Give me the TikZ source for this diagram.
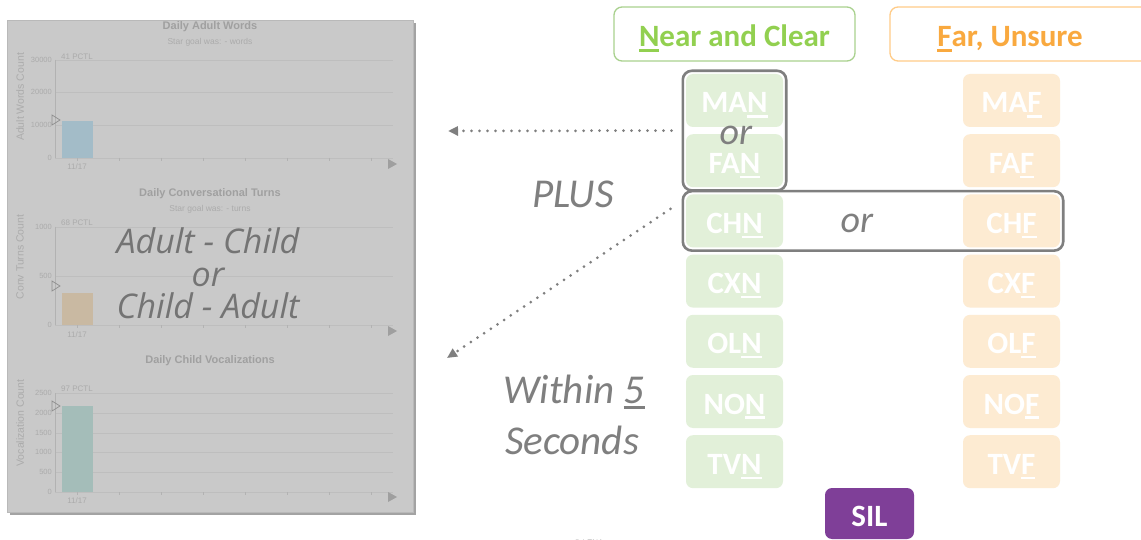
\documentclass[tikz,border=0pt]{standalone}
\usepackage{fontspec}
\setmainfont{Carlito}
\newfontfamily\chartfont{Liberation Sans}
\newfontfamily\ovfont{Open Sans}
\usetikzlibrary{arrows.meta,fit}
\definecolor{panelc}{HTML}{C9C9C9}
\definecolor{panelb}{HTML}{B9B9B9}
\definecolor{shadowc}{HTML}{A3A3A3}
\definecolor{ctitlec}{HTML}{A0A0A0}
\definecolor{clabc}{HTML}{ABABAB}
\definecolor{gridc}{HTML}{BEBEBE}
\definecolor{axisc}{HTML}{B2B2B2}
\definecolor{barA}{HTML}{A3BCC8}
\definecolor{barB}{HTML}{C9B9A2}
\definecolor{barC}{HTML}{A4BDB9}
\definecolor{grayt}{HTML}{7F7F7F}
\definecolor{ovc}{HTML}{747474}
\definecolor{ntext}{HTML}{92D050}
\definecolor{nborder}{HTML}{A9D18E}
\definecolor{nfill}{HTML}{E2F0D9}
\definecolor{ftext}{HTML}{F9A93F}
\definecolor{fborder}{HTML}{FFCC88}
\definecolor{ffill}{HTML}{FDEBD2}
\definecolor{silc}{HTML}{7F3F98}
\newcommand{\ulx}[1]{\leavevmode\setbox0=\hbox{#1}\rlap{\rule[-0.15em]{\wd0}{0.075em}}\box0}
\begin{document}
\begin{tikzpicture}[x=1pt,y=-1pt,
  ctitle/.style={font=\chartfont\bfseries\fontsize{11}{13}\selectfont, text=ctitlec, inner sep=0pt},
  csub/.style={font=\chartfont\fontsize{8.5}{10}\selectfont, text=clabc, inner sep=0pt},
  ylab/.style={font=\chartfont\fontsize{7.5}{9}\selectfont, text=clabc, anchor=east, inner sep=0pt},
  xlab/.style={font=\chartfont\fontsize{8}{9}\selectfont, text=clabc, inner sep=0pt},
  ytitle/.style={font=\chartfont\fontsize{10.5}{12}\selectfont, text=clabc, rotate=90, inner sep=0pt},
  gridl/.style={draw=gridc, line width=0.6pt},
  axisl/.style={draw=axisc, line width=0.7pt},
  pmark/.style={draw=axisc!80!black, line width=0.7pt},
  endtri/.style={fill=gray!75},
  ovtxt/.style={font=\ovfont\itshape\fontsize{34}{38}\selectfont, text=ovc, inner sep=0pt, anchor=base},
  graytxt/.style={font=\itshape\fontsize{41}{45}\selectfont, text=grayt, inner sep=0pt, anchor=base},
  ortxt/.style={font=\itshape\fontsize{38}{42}\selectfont, text=grayt, inner sep=0pt, anchor=base},
  lbox/.style={rounded corners=7pt, minimum width=97pt, minimum height=53pt, inner sep=0pt, text=white,
     font=\bfseries\fontsize{31}{36}\selectfont, text height=25pt, text depth=0pt},
  nearbox/.style={lbox, fill=nfill},
  farbox/.style={lbox, fill=ffill},
  grp/.style={draw=grayt, line width=2.6pt, rounded corners=9pt, inner sep=3pt},
  headbox/.style={rounded corners=8pt, line width=1.3pt, minimum height=54pt, inner sep=0pt},
  headtxt/.style={font=\bfseries\fontsize{31}{36}\selectfont, inner sep=0pt, anchor=base},
  dotarrow/.style={draw=grayt, line width=3pt, dash pattern=on 0pt off 8pt, line cap=round,
     -{Triangle[length=10pt,width=9pt]}}
]
\useasboundingbox (0,0) rectangle (1141,540);
\clip (0,0) rectangle (1141,540);
\fill[white] (0,0) rectangle (1141,540);

% ---------- chart panel ----------
\fill[shadowc] (10,23) rectangle (416,515);
\node[fill=panelc, draw=panelb, line width=0.6pt, minimum width=406pt, minimum height=492pt, inner sep=0pt] (panel) at (210,266) {};

% chart 1
\node[ctitle] (t1) at (210,27) {Daily Adult Words};
\node[csub] (s1) at (210,42) {Star goal was: - words};
\foreach \yy/\ll in {60/30000,92/20000,125/10000,158/0}{
  \draw[gridl] (55,\yy) -- (393,\yy);
  \node[ylab] at (52,\yy) {\ll};
}
\draw[axisl] (55,60) -- (55,158);
\foreach \xx in {77,119,...,371} \draw[axisl] (\xx,158) -- (\xx,161);
\fill[barA] (62,121) rectangle (93,158);
\draw[pmark] (52,115) -- (60,120) -- (52,125) -- cycle;
\node[xlab] (p1) at (77,57) {41 PCTL};
\node[xlab] (d1) at (77,167) {11/17};
\fill[endtri] (388,159) -- (397,164) -- (388,169) -- cycle;
\node[ytitle] (y1) at (20,97) {Adult Words Count};

% chart 2
\node[ctitle] (t2) at (210,194) {Daily Conversational Turns};
\node[csub] (s2) at (210,209) {Star goal was: - turns};
\foreach \yy/\ll in {227/1000,276/500,325/0}{
  \draw[gridl] (55,\yy) -- (393,\yy);
  \node[ylab] at (52,\yy) {\ll};
}
\draw[axisl] (55,227) -- (55,325);
\foreach \xx in {77,119,...,371} \draw[axisl] (\xx,325) -- (\xx,328);
\fill[barB] (62,293) rectangle (93,325);
\draw[pmark] (52,281) -- (60,286) -- (52,291) -- cycle;
\node[xlab] (p2) at (77,223) {68 PCTL};
\node[xlab] (d2) at (77,335) {11/17};
\fill[endtri] (388,326) -- (397,331) -- (388,336) -- cycle;
\node[ytitle] (y2) at (20,257) {Conv Turns Count};

% chart 3
\node[ctitle] (t3) at (210,361) {Daily Child Vocalizations};
\foreach \yy/\ll in {393/2500,413/2000,433/1500,452/1000,472/500,492/0}{
  \draw[gridl] (55,\yy) -- (393,\yy);
  \node[ylab] at (52,\yy) {\ll};
}
\draw[axisl] (55,393) -- (55,492);
\foreach \xx in {77,119,...,371} \draw[axisl] (\xx,492) -- (\xx,495);
\fill[barC] (62,406) rectangle (93,492);
\draw[pmark] (52,401) -- (60,406) -- (52,411) -- cycle;
\node[xlab] (p3) at (77,389) {97 PCTL};
\node[xlab] (d3) at (77,501) {11/17};
\fill[endtri] (388,492) -- (397,497) -- (388,502) -- cycle;
\node[ytitle] (y3) at (20,423) {Vocalization Count};

% overlay text
\node[ovtxt] (ac) at (208,254) {Adult - Child};
\node[ovtxt] (ovor) at (208,287) {or};
\node[ovtxt] (ca) at (208,318) {Child - Adult};

% ---------- headers ----------
\node[headbox, draw=nborder, fill=white, minimum width=241pt] (near) at (734.5,34) {};
\node[headtxt, text=ntext] (neartxt) at (734.5,47) {\ulx{N}ear and Clear};
\node[headbox, draw=fborder, fill=white, minimum width=300pt] (far) at (1040,34) {};
\node[headtxt, text=ftext] (fartxt) at (1010,47) {\ulx{F}ar, Unsure};

% ---------- code boxes ----------
\node[nearbox] (man) at (734.5,100.5) {MA\ulx{N}};
\node[nearbox] (fan) at (734.5,160.7) {FA\ulx{N}};
\node[nearbox] (chn) at (734.5,220.9) {CH\ulx{N}};
\node[nearbox] (cxn) at (734.5,281.1) {CX\ulx{N}};
\node[nearbox] (oln) at (734.5,341.3) {OL\ulx{N}};
\node[nearbox] (non) at (734.5,401.5) {NO\ulx{N}};
\node[nearbox] (tvn) at (734.5,461.7) {TV\ulx{N}};
\node[farbox] (maf) at (1011.5,100.5) {MA\ulx{F}};
\node[farbox] (faf) at (1011.5,160.7) {FA\ulx{F}};
\node[farbox] (chf) at (1011.5,220.9) {CH\ulx{F}};
\node[farbox] (cxf) at (1011.5,281.1) {CX\ulx{F}};
\node[farbox] (olf) at (1011.5,341.3) {OL\ulx{F}};
\node[farbox] (nof) at (1011.5,401.5) {NO\ulx{F}};
\node[farbox] (tvf) at (1011.5,461.7) {TV\ulx{F}};
\node[lbox, fill=silc, minimum width=89pt, minimum height=51pt] (sil) at (869.5,513.5) {SIL};

% groups
\node[grp, fit=(man)(fan)] (g1) {};
\node[grp, fit=(chn)(chf)] (g2) {};
\node[ortxt] (or1) at (736,145) {or};
\node[ortxt] (or2) at (857,233) {or};

% ---------- arrows and texts ----------
\coordinate (e1) at (448,131);
\coordinate (e2) at (447,358);
\draw[dotarrow] ([xshift=-10pt]g1.west) -- (e1);
\draw[dotarrow] ([xshift=-11pt,yshift=12pt]g2.west) -- (e2);
\node[graytxt] (plus) at (573,208) {PLUS};
\node[graytxt] (within) at (574,403) {Within \ulx{5}};
\node[graytxt] (secs) at (572,454) {Seconds};
\node[font=\chartfont\fontsize{8}{9}\selectfont, text=gray!70, anchor=base, inner sep=0pt] (copy) at (589,545) {© LENA};
\end{tikzpicture}
\end{document}
